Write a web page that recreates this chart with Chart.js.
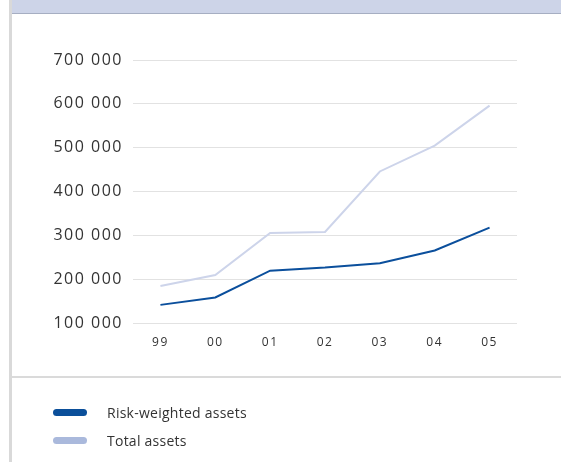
<!DOCTYPE html>
<html>
<head>
<meta charset="utf-8">
<script src="https://cdn.jsdelivr.net/npm/chart.js@4/dist/chart.umd.min.js"></script>
<style>
  html, body { margin: 0; padding: 0; background: #ffffff; }
  #page { position: relative; width: 561px; height: 462px; overflow: hidden; font-family: "Open Sans", "Noto Sans", sans-serif; }
  #band { position: absolute; left: 12px; top: 0; right: 0; height: 13px; background: #cdd4e8; border-bottom: 1px solid #a6aec2; }
  #edge { position: absolute; left: 9px; top: 0; width: 3px; height: 462px; background: #d9d9d9; }
  #rule { position: absolute; left: 12px; right: 0; top: 376px; height: 2px; background: #dadada; }
  #chart { position: absolute; left: 0; top: 0; }
  .key { position: absolute; left: 53px; width: 34px; height: 7px; border-radius: 3.5px; }
  .keytxt { position: absolute; left: 107px; font-size: 14px; line-height: 20px; color: #333333; letter-spacing: 0.25px; white-space: nowrap; }
</style>
</head>
<body>
<div id="page">
  <div id="edge"></div>
  <div id="band"></div>
  <div id="rule"></div>
  <canvas id="chart" width="561" height="462"></canvas>
  <div id="legend"></div>
</div>
<script>
// Years (2-digit) on the category axis
const years = ['99', '00', '01', '02', '03', '04', '05'];

// Values per year
const riskWeightedAssets = [142000, 159000, 220000, 227000, 237000, 266000, 318000];
const totalAssets = [185000, 210000, 306000, 308000, 446000, 505000, 596000];

const seriesNames = ['Risk-weighted assets', 'Total assets'];
const lineColors = ['#0b4f9c', '#cdd4ea'];
const keyColors = ['#0b4f9a', '#aab9dc'];

// Value axis range
const yMin = 100000;
const yMax = 700000;
const yStep = 100000;

function spaced(v) {
  return String(v).replace(/\B(?=(\d{3})+(?!\d))/g, ' ');
}

// Slightly spaced digits for the axis text
const letterSpacingPlugin = {
  id: 'letterSpacing',
  beforeDraw(chart) { chart.ctx.letterSpacing = '1.5px'; },
  afterDraw(chart) { chart.ctx.letterSpacing = '0px'; }
};

new Chart(document.getElementById('chart'), {
  type: 'line',
  data: {
    labels: years,
    datasets: [
      { label: seriesNames[0], data: riskWeightedAssets, borderColor: lineColors[0], borderWidth: 2, pointRadius: 0, tension: 0, fill: false },
      { label: seriesNames[1], data: totalAssets, borderColor: lineColors[1], borderWidth: 2, pointRadius: 0, tension: 0, fill: false }
    ]
  },
  options: {
    responsive: false,
    animation: false,
    events: [],
    layout: { padding: { top: 60, right: 44, bottom: 108.7, left: 0 } },
    plugins: { legend: { display: false }, tooltip: { enabled: false } },
    scales: {
      x: {
        offset: true,
        grid: { display: false, drawTicks: false },
        border: { display: false },
        ticks: { color: '#333333', padding: 12, font: { family: '"Open Sans", "Noto Sans", sans-serif', size: 12 }, maxRotation: 0 },
        afterFit(scale) { scale.height = 30; }
      },
      y: {
        min: yMin,
        max: yMax,
        grid: { color: '#e2e2e2', lineWidth: 1, drawTicks: false },
        border: { display: false },
        ticks: {
          stepSize: yStep,
          color: '#333333',
          padding: 10,
          font: { family: '"Open Sans", "Noto Sans", sans-serif', size: 16 },
          callback: (v) => spaced(v)
        },
        afterFit(scale) { scale.width = 133; }
      }
    }
  },
  plugins: [letterSpacingPlugin]
});

// Legend keys below the rule
const legend = document.getElementById('legend');
const keyTops = [409, 437];
seriesNames.forEach((name, i) => {
  const k = document.createElement('div');
  k.className = 'key';
  k.style.top = keyTops[i] + 'px';
  k.style.background = keyColors[i];
  legend.appendChild(k);
  const t = document.createElement('div');
  t.className = 'keytxt';
  t.style.top = (keyTops[i] + 3.5 - 10) + 'px';
  t.textContent = name;
  legend.appendChild(t);
});
</script>
</body>
</html>
